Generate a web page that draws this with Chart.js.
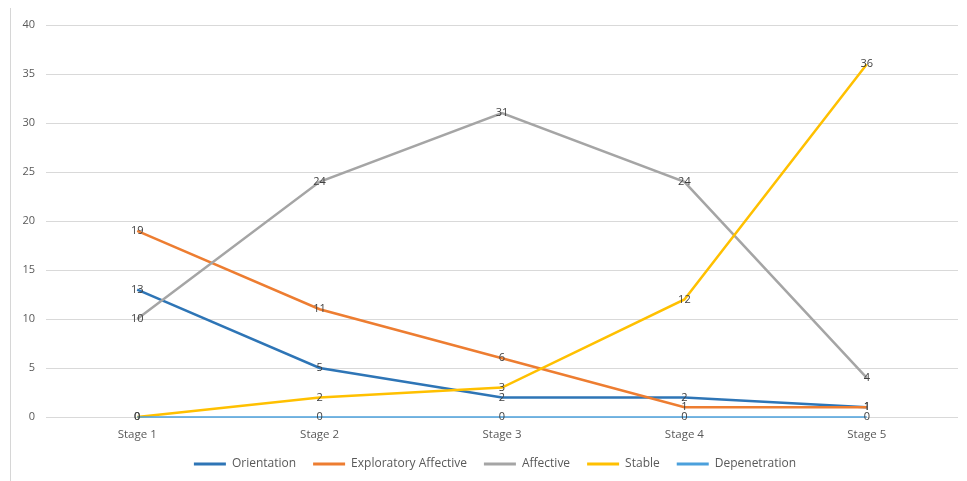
<!DOCTYPE html>
<html>
<head>
<meta charset="utf-8">
<script src="https://cdn.jsdelivr.net/npm/chart.js@4/dist/chart.umd.min.js"></script>
<style>
  html, body { margin: 0; padding: 0; background: #fff; }
  #wrap { position: relative; width: 967px; height: 481px; }
  #edge { position: absolute; left: 10px; top: 8px; width: 1px; height: 473px; background: #d6d6d6; }
  canvas { position: absolute; left: 0; top: 0; }
</style>
</head>
<body>
<div id="wrap">
  <div id="edge"></div>
  <canvas id="chart" width="967" height="481"></canvas>
</div>
<script>
// etapas y valores
const stages = ["Stage 1", "Stage 2", "Stage 3", "Stage 4", "Stage 5"];
const orientation = [13, 5, 2, 2, 1];
const exploratoryAffective = [19, 11, 6, 1, 1];
const affective = [10, 24, 31, 24, 4];
const stable = [0, 2, 3, 12, 36];
const depenetration = [0, 0, 0, 0, 0];

const FONT = "'Open Sans', 'Liberation Sans', sans-serif";

// etiquetas de datos centradas sobre cada punto (como en Excel)
const pointLabels = {
    id: 'pointLabels',
    afterDatasetsDraw(chart) {
        const ctx = chart.ctx;
        ctx.save();
        ctx.font = "11px " + FONT;
        ctx.fillStyle = "#404040";
        ctx.textAlign = "center";
        ctx.textBaseline = "middle";
        chart.data.datasets.forEach((ds, i) => {
            const meta = chart.getDatasetMeta(i);
            meta.data.forEach((pt, j) => {
                ctx.fillText(ds.data[j], pt.x, pt.y);
            });
        });
        ctx.restore();
    }
};

// la leyenda del original esta un poco corrida a la derecha
const legendShift = {
    id: 'legendShift',
    afterLayout(chart) {
        if (chart.legend) {
            chart.legend.left += 16;
            chart.legend.right += 16;
        }
    }
};

function serie(label, data, color, width, order) {
    return {
        label: label,
        data: data,
        borderColor: color,
        backgroundColor: color,
        borderWidth: width,
        pointRadius: 0,
        tension: 0,
        clip: false,
        order: order
    };
}

new Chart(document.getElementById('chart'), {
    type: 'line',
    data: {
        labels: stages,
        datasets: [
            serie("Orientation", orientation, "#2e75b6", 2.5, 4),
            serie("Exploratory Affective", exploratoryAffective, "#ed7d31", 2.5, 3),
            serie("Affective", affective, "#a5a5a5", 2.5, 2),
            serie("Stable", stable, "#ffc000", 2.5, 1),
            serie("Depenetration", depenetration, "#4ba0dc", 1.3, 0)
        ]
    },
    options: {
        responsive: false,
        animation: false,
        layout: { padding: { left: 0, right: 9, top: 25, bottom: 1 } },
        plugins: {
            tooltip: { enabled: false },
            legend: {
                position: 'bottom',
                labels: {
                    boxWidth: 32,
                    boxHeight: 3,
                    padding: 17,
                    color: "#595959",
                    font: { family: FONT, size: 12 },
                    sort: (a, b) => a.datasetIndex - b.datasetIndex,
                    generateLabels(chart) {
                        const items = Chart.defaults.plugins.legend.labels.generateLabels(chart);
                        items.forEach(it => {
                            it.fillStyle = it.strokeStyle;
                            it.lineWidth = 0;
                        });
                        return items;
                    }
                }
            }
        },
        scales: {
            x: {
                offset: true,
                grid: { display: false },
                border: { display: false },
                ticks: { color: "#595959", font: { family: FONT, size: 11.5 }, padding: 3 },
                afterFit(scale) { scale.height = 24; }
            },
            y: {
                min: 0,
                max: 40,
                ticks: { stepSize: 5, color: "#595959", font: { family: FONT, size: 11 }, padding: 11 },
                grid: { color: "#d9d9d9", drawTicks: false },
                border: { display: false },
                afterFit(scale) { scale.width = 46; }
            }
        }
    },
    plugins: [pointLabels, legendShift]
});
</script>
</body>
</html>
